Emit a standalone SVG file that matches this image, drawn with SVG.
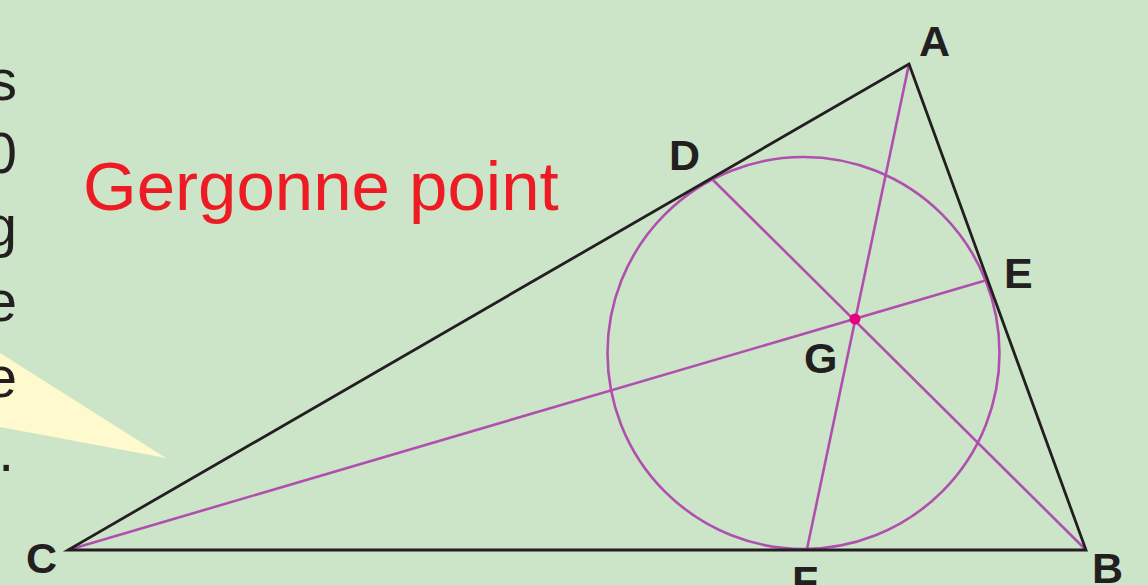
<svg xmlns="http://www.w3.org/2000/svg" width="1148" height="585" viewBox="0 0 1148 585">
<style>
.bg{fill:#cce5c9}
.side{stroke:#231f20;stroke-width:2.8;fill:none;stroke-linejoin:miter}
.pur{stroke:#b04fae;stroke-width:2.6;fill:none}
.lbl{font-family:"Liberation Sans",Arial,sans-serif;font-weight:bold;font-size:43px;fill:#231f20}
.body{font-family:"Liberation Sans",Arial,sans-serif;font-size:57px;fill:#231f20}
</style>
<rect class="bg" x="0" y="0" width="1148" height="585"/>
<polygon points="0,353 166,458 0,427" fill="#fefacd"/>
<g id="sidetext" class="body" text-anchor="end">
<text x="17" y="100">s</text>
<text x="17" y="173">0</text>
<text x="17" y="246">g</text>
<text x="17" y="321">e</text>
<text x="17" y="397">e</text>
<text x="14" y="471">.</text>
</g>
<text id="title" x="83" y="210" font-family="Liberation Sans,Arial,sans-serif" font-size="69" fill="#ed1c24">Gergonne point</text>
<g id="connectors">
<circle class="pur" cx="803.5" cy="353" r="196"/>
<line class="pur" x1="909" y1="64" x2="807" y2="549"/>
<line class="pur" x1="1086" y1="550" x2="711" y2="178"/>
<line class="pur" x1="68" y1="550" x2="987" y2="280"/>
<polygon class="side" points="909,64 1086,550 68,550"/>
</g>
<g id="G"><circle cx="855" cy="319" r="5.5" fill="#e6007e"/><text class="lbl" x="804" y="373">G</text></g>
<g id="A"><text class="lbl" x="919" y="56">A</text></g>
<g id="B"><text class="lbl" x="1092" y="583">B</text></g>
<g id="C"><text class="lbl" x="26" y="573">C</text></g>
<g id="D"><text class="lbl" x="669" y="170">D</text></g>
<g id="E"><text class="lbl" x="1004" y="288">E</text></g>
<g id="F"><text class="lbl" x="792" y="596">F</text></g>
</svg>
